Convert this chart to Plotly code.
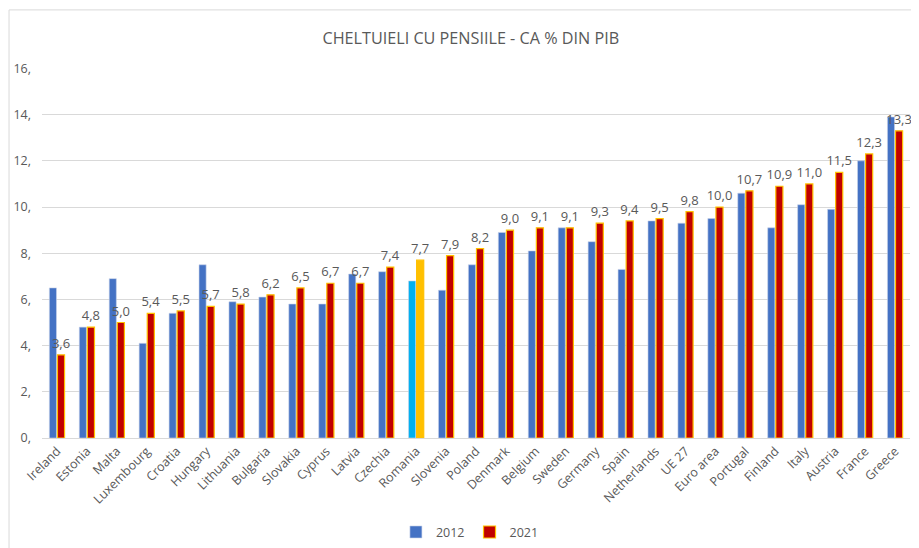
import plotly.graph_objects as go

countries = ["Ireland", "Estonia", "Malta", "Luxembourg", "Croatia", "Hungary", "Lithuania",
             "Bulgaria", "Slovakia", "Cyprus", "Latvia", "Czechia", "Romania", "Slovenia",
             "Poland", "Denmark", "Belgium", "Sweden", "Germany", "Spain", "Netherlands",
             "UE 27", "Euro area", "Portugal", "Finland", "Italy", "Austria", "France", "Greece"]
v2012 = [6.5, 4.8, 6.9, 4.1, 5.4, 7.5, 5.9, 6.1, 5.8, 5.8, 7.1, 7.2, 6.8, 6.4,
         7.5, 8.9, 8.1, 9.1, 8.5, 7.3, 9.4, 9.3, 9.5, 10.6, 9.1, 10.1, 9.9, 12.0, 13.9]
v2021 = [3.6, 4.8, 5.0, 5.4, 5.5, 5.7, 5.8, 6.2, 6.5, 6.7, 6.7, 7.4, 7.7, 7.9,
         8.2, 9.0, 9.1, 9.1, 9.3, 9.4, 9.5, 9.8, 10.0, 10.7, 10.9, 11.0, 11.5, 12.3, 13.3]
tick_vals = [0, 2, 4, 6, 8, 10, 12, 14, 16]
tick_text = ["0,", "2,", "4,", "6,", "8,", "10,", "12,", "14,", "16,"]

highlight = "Romania"
c2012 = ["#00B0F0" if c == highlight else "#4472C4" for c in countries]
c2021 = ["#FFC000" if c == highlight else "#C00000" for c in countries]

FONT = "Open Sans"
GRAY = "#595959"

fig = go.Figure()
fig.add_trace(go.Bar(
    x=countries, y=v2012, name="2012",
    marker=dict(color=c2012, line=dict(color="#C9D3EA", width=0.6)),
))
fig.add_trace(go.Bar(
    x=countries, y=v2021, name="2021",
    marker=dict(color=c2021, line=dict(color="#FFC000", width=1.2)),
    texttemplate="%{y:.1f}", textposition="outside", cliponaxis=False,
    constraintext="none",
    textfont=dict(color=GRAY, size=13, family=FONT),
))

fig.add_shape(type="rect", xref="paper", yref="paper",
              x0=-0.038, x1=1.03, y0=-0.35, y1=1.157,
              line=dict(color="#D9D9D9", width=1), fillcolor="rgba(0,0,0,0)", layer="below")

fig.update_layout(
    width=911, height=540,
    margin=dict(l=34, r=9, t=60, b=110, autoexpand=False),
    paper_bgcolor="white", plot_bgcolor="white",
    separators=",.",
    barmode="group", bargap=0.46, bargroupgap=0.12,
    title=dict(text="CHELTUIELI CU PENSIILE - CA % DIN PIB", x=0.508, xanchor="center",
               y=0.944, yanchor="middle",
               font=dict(family=FONT, size=16.2, color=GRAY)),
    font=dict(family=FONT, color=GRAY),
    showlegend=True,
    legend=dict(orientation="h", x=0.493, xanchor="center", y=-0.255, yanchor="middle",
                font=dict(size=12.5, color=GRAY), itemwidth=30, tracegroupgap=0,
                itemclick=False),
    xaxis=dict(tickangle=-45, tickfont=dict(size=12.5, color=GRAY), automargin=False,
               showline=True, linecolor="#D9D9D9", linewidth=1, ticks=""),
    yaxis=dict(range=[0, 16.02], tickvals=tick_vals, ticktext=tick_text, automargin=False,
               tickfont=dict(size=12.5, color=GRAY),
               showgrid=True, gridcolor="#D9D9D9", gridwidth=1, zeroline=False,
               ticks="", ticklabelstandoff=10),
)

fig.write_html("out.html")
